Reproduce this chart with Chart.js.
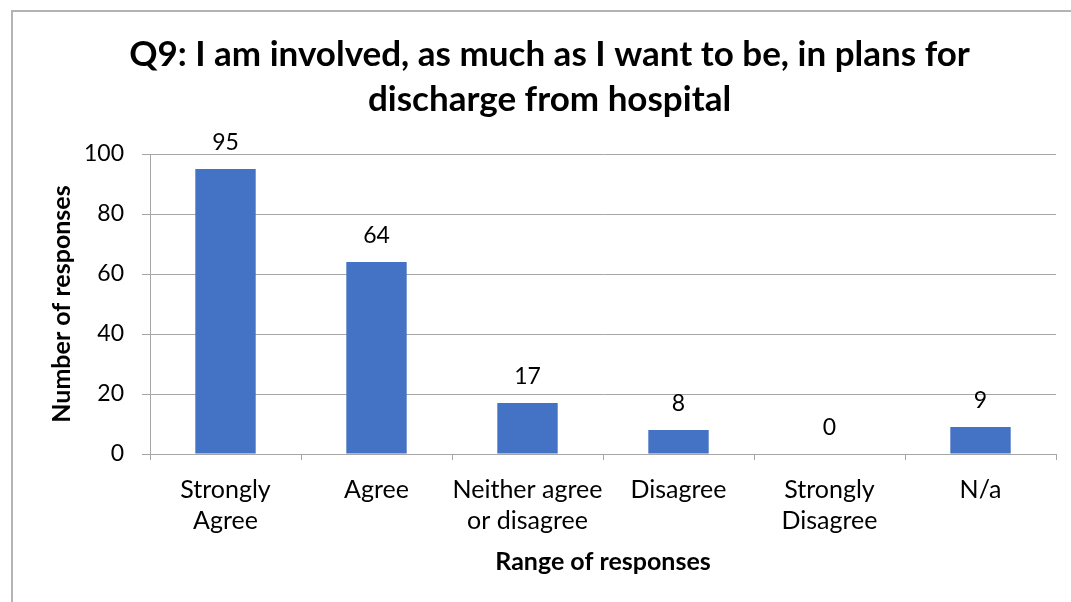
<!DOCTYPE html>
<html>
<head>
<meta charset="utf-8">
<script src="https://cdn.jsdelivr.net/npm/chart.js@4/dist/chart.umd.min.js"></script>
<style>
  html, body { margin: 0; padding: 0; background: #fff; overflow: hidden; }
  #frame {
    position: absolute; left: 11px; top: 10px; width: 1100px; height: 620px;
    border-left: 2px solid #b4b4b4; border-top: 2px solid #b4b4b4;
  }
  #wrap { position: absolute; left: 43px; top: 12px; width: 1028px; height: 590px; }
</style>
</head>
<body>
<div id="frame"></div>
<div id="wrap"><canvas id="chart"></canvas></div>
<script>
const categories = [
  ['Strongly', 'Agree'],
  'Agree',
  ['Neither agree', 'or disagree'],
  'Disagree',
  ['Strongly', 'Disagree'],
  'N/a'
];
const responses = [95, 64, 17, 8, 0, 9];
const yTicks = [0, 20, 40, 60, 80, 100];

const FONT = 'Lato, "Open Sans", sans-serif';
const GRID = '#a6a6a6';

// value labels above each bar
const barLabels = {
  id: 'barLabels',
  afterDatasetsDraw(chart) {
    const ctx = chart.ctx;
    const meta = chart.getDatasetMeta(0);
    ctx.save();
    ctx.font = '23px ' + FONT;
    ctx.fillStyle = '#000';
    ctx.textAlign = 'center';
    ctx.textBaseline = 'middle';
    meta.data.forEach((bar, i) => {
      ctx.fillText(String(responses[i]), bar.x, bar.y - 26);
    });
    ctx.restore();
  }
};

new Chart(document.getElementById('chart'), {
  type: 'bar',
  data: {
    labels: categories,
    datasets: [{
      data: responses,
      backgroundColor: '#4472C4',
      borderWidth: 0,
      barPercentage: 0.4,
      categoryPercentage: 1
    }]
  },
  options: {
    responsive: true,
    maintainAspectRatio: false,
    animation: false,
    layout: { padding: { left: 0, right: 15, top: 0, bottom: 0 } },
    plugins: {
      legend: { display: false },
      tooltip: { enabled: false },
      title: {
        display: true,
        text: ['Q9: I am involved, as much as I want to be, in plans for', 'discharge from hospital'],
        color: '#000',
        font: { family: FONT, size: 35, weight: 'bold', lineHeight: '45px' },
        padding: { top: 20, bottom: 32 }
      }
    },
    scales: {
      x: {
        grid: { offset: true, drawOnChartArea: false, drawTicks: true, tickLength: 6, color: GRID },
        border: { color: GRID, width: 1 },
        ticks: { color: '#000', font: { family: FONT, size: 25, lineHeight: '31px' }, padding: 14, maxRotation: 0, autoSkip: false },
        title: {
          display: true,
          text: 'Range of responses',
          color: '#000',
          font: { family: FONT, size: 25, weight: 'bold', lineHeight: '28px' },
          padding: { top: 0, bottom: 26 }
        },
        afterFit(scale) { scale.height = 148; }
      },
      y: {
        min: 0,
        max: 100,
        grid: { color: GRID, tickLength: 8 },
        border: { color: GRID, width: 1 },
        afterBuildTicks(scale) { scale.ticks = yTicks.map(v => ({ value: v })); },
        ticks: { color: '#000', font: { family: FONT, size: 23 }, padding: 18 },
        title: {
          display: true,
          text: 'Number of responses',
          color: '#000',
          font: { family: FONT, size: 25, weight: 'bold', lineHeight: '28px' },
          padding: { top: 5, bottom: 0 }
        },
        afterFit(scale) { scale.width = 107; }
      }
    }
  },
  plugins: [barLabels]
});
</script>
</body>
</html>
